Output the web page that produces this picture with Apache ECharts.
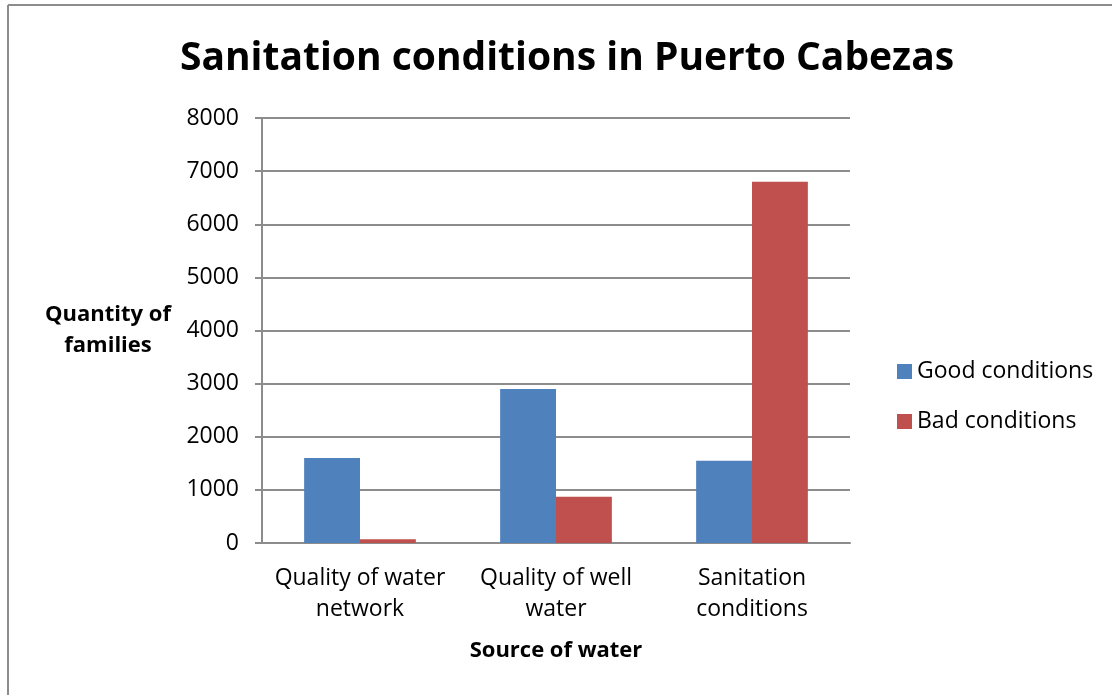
<!DOCTYPE html>
<html>
<head>
<meta charset="utf-8">
<script src="https://cdn.jsdelivr.net/npm/echarts@6/dist/echarts.min.js"></script>
<style>
  html, body { margin: 0; padding: 0; background: #fff; }
  #chart { width: 1112px; height: 695px; }
</style>
</head>
<body>
<div id="chart"></div>
<script>
// data
var categories = ['Quality of water\nnetwork', 'Quality of well\nwater', 'Sanitation\nconditions']
var goodConditions = [1600, 2900, 1550]
var badConditions = [70, 870, 6800]
var seriesNames = ['Good conditions', 'Bad conditions']

var font = '"Open Sans", "Liberation Sans", sans-serif'

var chart = echarts.init(document.getElementById('chart'))

chart.setOption({
  backgroundColor: '#fff',
  animation: false,
  textStyle: { fontFamily: font },
  title: {
    text: 'Sanitation conditions in Puerto Cabezas',
    left: 562,
    top: 34,
    textAlign: 'center',
    textStyle: { fontSize: 39, fontWeight: 'bold', color: '#000', fontFamily: font }
  },
  legend: {
    orient: 'vertical',
    left: 892,
    top: 355,
    itemWidth: 15,
    itemHeight: 15,
    itemGap: 27,
    icon: 'rect',
    data: seriesNames,
    textStyle: { fontSize: 23, color: '#000', fontFamily: font }
  },
  grid: { left: 262, right: 262, top: 118, bottom: 152, containLabel: false, outerBoundsMode: 'none' },
  xAxis: {
    type: 'category',
    data: categories,
    axisLine: { lineStyle: { color: '#8c8c8c', width: 2 } },
    axisTick: { show: false },
    axisLabel: { interval: 0, color: '#000', fontSize: 23, lineHeight: 31, margin: 20, fontFamily: font },
    name: 'Source of water',
    nameLocation: 'middle',
    nameGap: 97,
    nameTextStyle: { fontSize: 22, fontWeight: 'bold', color: '#000', fontFamily: font }
  },
  yAxis: {
    type: 'value',
    min: 0,
    max: 8000,
    interval: 1000,
    axisLine: { show: true, lineStyle: { color: '#8c8c8c', width: 2 } },
    axisTick: { show: true, length: 7, lineStyle: { color: '#8c8c8c', width: 2 } },
    axisLabel: { color: '#000', fontSize: 23, margin: 23, fontFamily: font, formatter: function (v) { return String(v) } },
    splitLine: { lineStyle: { color: '#8c8c8c', width: 2 } },
    name: 'Quantity of\nfamilies',
    nameLocation: 'middle',
    nameGap: 154,
    nameRotate: 0,
    nameTextStyle: { fontSize: 22, fontWeight: 'bold', color: '#000', lineHeight: 31, align: 'center', padding: [8, 0, 0, 0], fontFamily: font }
  },
  series: [
    {
      name: seriesNames[0],
      type: 'bar',
      data: goodConditions,
      barGap: '0%',
      barCategoryGap: '43%',
      itemStyle: { color: '#4f81bd' }
    },
    {
      name: seriesNames[1],
      type: 'bar',
      data: badConditions,
      itemStyle: { color: '#c0504d' }
    }
  ],
  graphic: [
    { type: 'line', shape: { x1: 8, y1: 5, x2: 1112, y2: 5 }, style: { stroke: '#8c8c8c', lineWidth: 2 } },
    { type: 'line', shape: { x1: 8, y1: 5, x2: 8, y2: 695 }, style: { stroke: '#8c8c8c', lineWidth: 2 } }
  ]
})
</script>
</body>
</html>
